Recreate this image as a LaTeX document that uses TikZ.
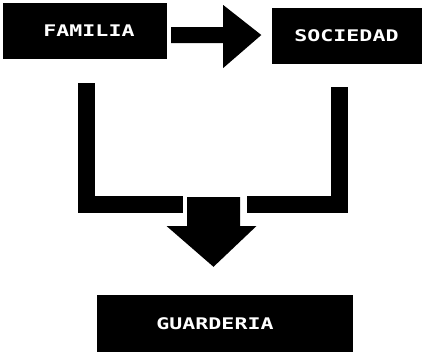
\documentclass[tikz,border=0pt]{standalone}
\usepackage{fontspec}
\newfontfamily\boxfont{DejaVu Sans Mono}[FakeStretch=1.35]
\usetikzlibrary{calc}

\begin{document}
\begin{tikzpicture}[x=1pt, y=-1pt,
  box/.style={rectangle, fill=black, text=white, inner sep=0pt,
    font=\boxfont\bfseries\fontsize{16}{17}\selectfont},
  bar/.style={draw=black, line width=17pt, line join=miter},
  blockarrow/.style={fill=black}]
  \useasboundingbox (0,0) rectangle (424,354);

  \node[box, minimum width=164pt, minimum height=56pt] (familia)    at (85,31)     {\hspace*{8pt}FAMILIA};
  \node[box, minimum width=150pt, minimum height=56pt] (sociedad)   at (346.5,36)  {SOCIEDAD};
  \node[box, minimum width=256pt, minimum height=57pt] (guarderia)  at (225,323.5) {GUARDERIA\hspace*{20pt}};

  % arrow familia -> sociedad
  \coordinate (shaft) at ($(familia.east)+(4,4)$);
  \fill[blockarrow] (shaft) ++(0,-8) -- ++(52,0) -- ++(0,-22) -- ($(sociedad.west)+(-10,-1)$)
    -- ($(shaft)+(52,33)$) -- ++(0,-25) -- ++(-52,0) -- cycle;

  % bracket joining both into one
  \coordinate (join) at (213.5,204);
  \draw[bar] ($(familia.south)+(1.5,24)$) |- ($(join)+(-30.5,0)$);
  \draw[bar] ($(sociedad.south)+(-7.5,23)$) |- ($(join)+(33.5,0)$);

  % arrow down to guarderia
  \coordinate (drop) at ($(join)+(0,-7)$);
  \fill[blockarrow] ($(drop)+(-26.5,0)$) -- ($(drop)+(26.5,0)$) -- ($(drop)+(26.5,29)$)
    -- ($(drop)+(43,29)$) -- ($(guarderia.north)+(-11.5,-28)$) -- ($(drop)+(-47,29)$)
    -- ($(drop)+(-26.5,29)$) -- cycle;
\end{tikzpicture}
\end{document}
